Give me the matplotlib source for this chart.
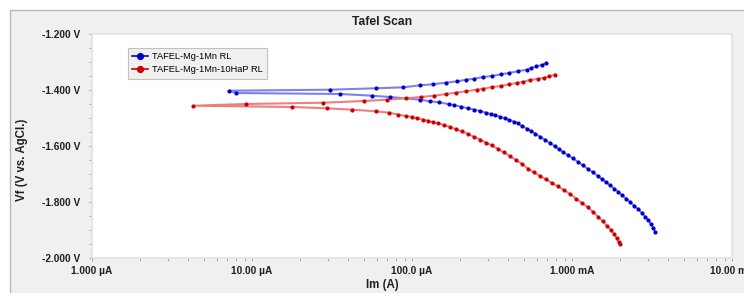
import numpy as np
import matplotlib
matplotlib.use("Agg")
import matplotlib.pyplot as plt
from matplotlib.patches import Rectangle
from matplotlib.ticker import FixedLocator, LogLocator, NullFormatter, FuncFormatter

plt.rcParams['font.family'] = ['Liberation Sans', 'DejaVu Sans']

# ---- data (current in uA, potential in V) ----
# Mg-1Mn : cathodic branch (from Ecorr outwards) and anodic branch
mn_cath_i = [7.94, 35.5, 56.5, 72.9, 112.2, 129.6, 148.1, 171.1, 183.8, 203.3,
             223.9, 245.2, 267.3, 290.1, 310.4, 331.6, 354.8, 379.7, 405.7, 435.9,
             457.7, 486.9, 521.2, 554.4, 591.3, 631.0, 678.0, 728.6, 777.5, 823.5,
             878.7, 944.1, 1014.5, 1090.0, 1171.6, 1258.9, 1352.9, 1453.7, 1539.9,
             1631.3, 1727.8, 1830.2, 1938.7, 2053.5, 2175.2, 2304.1, 2440.6, 2585.2,
             2738.4, 2859.0, 2985.4, 3117.0, 3208.1, 3301.8]
mn_cath_v = [-1.4107, -1.4143, -1.4204, -1.4250, -1.4346, -1.4404, -1.4439, -1.4511,
             -1.4546, -1.4596, -1.4654, -1.4704, -1.4750, -1.4811, -1.4857, -1.4893,
             -1.4954, -1.5011, -1.5071, -1.5132, -1.5189, -1.5286, -1.5375, -1.5464,
             -1.5561, -1.5661, -1.5779, -1.5893, -1.6000, -1.6107, -1.6214, -1.6332,
             -1.6446, -1.6571, -1.6696, -1.6821, -1.6946, -1.7071, -1.7179, -1.7286,
             -1.7393, -1.7518, -1.7625, -1.7750, -1.7875, -1.8000, -1.8125, -1.8250,
             -1.8393, -1.8518, -1.8643, -1.8786, -1.8911, -1.9054]
mn_anod_i = [7.18, 30.6, 59.3, 88.2, 112.2, 134.7, 162.4, 191.9, 218.5, 245.2,
             279.0, 314.9, 360.0, 404.0, 457.7, 521.2, 556.8, 598.4, 646.6, 687.9]
mn_anod_v = [-1.4025, -1.3989, -1.3939, -1.3904, -1.3832, -1.3796, -1.3739, -1.3689,
             -1.3632, -1.3596, -1.3536, -1.3500, -1.3439, -1.3393, -1.3332, -1.3275,
             -1.3214, -1.3154, -1.3107, -1.3036]

# Mg-1Mn-10HaP
hap_cath_i = [17.86, 29.43, 42.37, 59.32, 72.13, 82.12, 91.73, 99.57, 107.9, 117.7,
              126.5, 135.9, 146.0, 158.5, 172.8, 188.4, 205.4, 223.9, 244.1, 266.1,
              290.1, 316.2, 344.7, 375.8, 409.7, 446.7, 486.9, 530.9, 578.8, 631.0,
              687.9, 749.9, 817.6, 891.3, 971.6, 1059.3, 1154.8, 1258.9, 1352.9,
              1453.7, 1562.2, 1655.0, 1752.9, 1830.2, 1897.3, 1952.7, 1981.0]
hap_cath_v = [-1.4607, -1.4654, -1.4704, -1.4761, -1.4811, -1.4882, -1.4929, -1.4964,
              -1.5011, -1.5061, -1.5107, -1.5154, -1.5189, -1.5250, -1.5321, -1.5400,
              -1.5482, -1.5571, -1.5668, -1.5768, -1.5875, -1.5982, -1.6107, -1.6232,
              -1.6364, -1.6500, -1.6643, -1.6804, -1.6946, -1.7071, -1.7196, -1.7321,
              -1.7446, -1.7571, -1.7714, -1.7875, -1.8036, -1.8196, -1.8357, -1.8518,
              -1.8696, -1.8857, -1.9000, -1.9143, -1.9286, -1.9429, -1.9500]
hap_anod_i = [4.297, 9.134, 27.90, 50.34, 69.49, 91.73, 113.8, 137.8, 163.1, 188.4,
              217.6, 253.8, 279.0, 317.6, 360.0, 404.0, 451.1, 496.3, 546.4, 610.4,
              668.3, 721.3, 779.8]
hap_anod_v = [-1.4561, -1.4500, -1.4454, -1.4393, -1.4346, -1.4296, -1.4250, -1.4204,
              -1.4143, -1.4096, -1.4046, -1.3989, -1.3954, -1.3893, -1.3857, -1.3796,
              -1.3750, -1.3704, -1.3643, -1.3607, -1.3561, -1.3511, -1.3454]

series_names = ['TAFEL-Mg-1Mn RL', 'TAFEL-Mg-1Mn-10HaP RL']
y_ticks = [-2.0, -1.8, -1.6, -1.4, -1.2]
x_ticks = [1e-6, 1e-5, 1e-4, 1e-3, 1e-2]
x_tick_labels = ['1.000 \u00b5A', '10.00 \u00b5A', '100.0 \u00b5A', '1.000 mA', '10.00 mA']


def full_curve(ci, cv, ai, av):
    # cathodic end -> Ecorr -> anodic end, current in A
    i = np.concatenate([np.array(ci[::-1]), np.array(ai)]) * 1e-6
    v = np.concatenate([np.array(cv[::-1]), np.array(av)])
    return i, v


W, H = 744, 293
fig = plt.figure(figsize=(W / 100, H / 100), dpi=100)
fig.patch.set_facecolor('white')
fig.add_artist(Rectangle((10 / W, -0.1), 1.2, (H - 10) / H + 0.1,
                         transform=fig.transFigure, facecolor='#f0f0f0',
                         edgecolor='#b8b8b8', linewidth=1, zorder=-10))

ax = fig.add_axes([92 / W, 35 / H, 640 / W, 224 / H])
ax.set_facecolor('white')
for s in ax.spines.values():
    s.set_color('#e2e2e2')
    s.set_linewidth(1.2)

curves = [
    (full_curve(mn_cath_i, mn_cath_v, mn_anod_i, mn_anod_v), '#0000cc', '#8080ec'),
    (full_curve(hap_cath_i, hap_cath_v, hap_anod_i, hap_anod_v), '#cc0000', '#ec8080'),
]
for (ii, vv), dark, light in curves:
    ax.plot(ii, vv, '-', color=light, linewidth=1.5, zorder=2)
    ax.plot(ii, vv, 'o', color=dark, markersize=3.0, markeredgewidth=0, zorder=3)

# legend handles (style only)
handles = [plt.Line2D([], [], color=c[1], marker='o', markersize=4.2, linewidth=1.2)
           for c in curves]
leg = ax.legend(handles, series_names, loc='upper left',
                bbox_to_anchor=(0.056, 0.9375), borderaxespad=0, fancybox=False,
                fontsize=6.7, handlelength=1.7, handletextpad=0.4,
                labelspacing=0.45, borderpad=0.45, framealpha=1)
leg.get_frame().set_facecolor('#f0f0f0')
leg.get_frame().set_edgecolor('#c0c0c0')
leg.get_frame().set_linewidth(0.8)

ax.set_xscale('log')
ax.set_xlim(1e-6, 1e-2)
ax.set_ylim(-2.0, -1.2)

ax.yaxis.set_major_locator(FixedLocator(y_ticks))
ax.yaxis.set_minor_locator(FixedLocator(np.arange(-2.0, -1.19, 0.05)))
ax.yaxis.set_major_formatter(FuncFormatter(lambda v, p: '%.3f V' % v))
ax.xaxis.set_major_locator(FixedLocator(x_ticks))
ax.xaxis.set_minor_locator(LogLocator(base=10, subs=np.arange(2, 10), numticks=20))
ax.xaxis.set_minor_formatter(NullFormatter())
ax.set_xticklabels(x_tick_labels)

ax.tick_params(axis='both', which='both', color='#a8a8a8', width=0.8)
ax.tick_params(axis='y', which='major', length=2.5, pad=6)
ax.tick_params(axis='y', which='minor', length=2.5)
ax.tick_params(axis='x', which='major', length=2, pad=4)
ax.tick_params(axis='x', which='minor', length=2)
for lab in ax.get_xticklabels() + ax.get_yticklabels():
    lab.set_fontsize(7.3)
    lab.set_fontweight('bold')
    lab.set_color('#202020')

fig.text(382 / W, 1 - 22 / H, 'Tafel Scan', ha='center', va='center',
         fontsize=8.7, fontweight='bold', color='#202020')
fig.text(382 / W, 1 - 285 / H, 'Im (A)', ha='center', va='center',
         fontsize=8.3, fontweight='bold', color='#202020')
fig.text(22 / W, 1 - 160 / H, 'Vf (V vs. AgCl.)', ha='center', va='center',
         rotation=90, fontsize=8.3, fontweight='bold', color='#202020')

fig.savefig('out.png', dpi=100, facecolor=fig.get_facecolor())
